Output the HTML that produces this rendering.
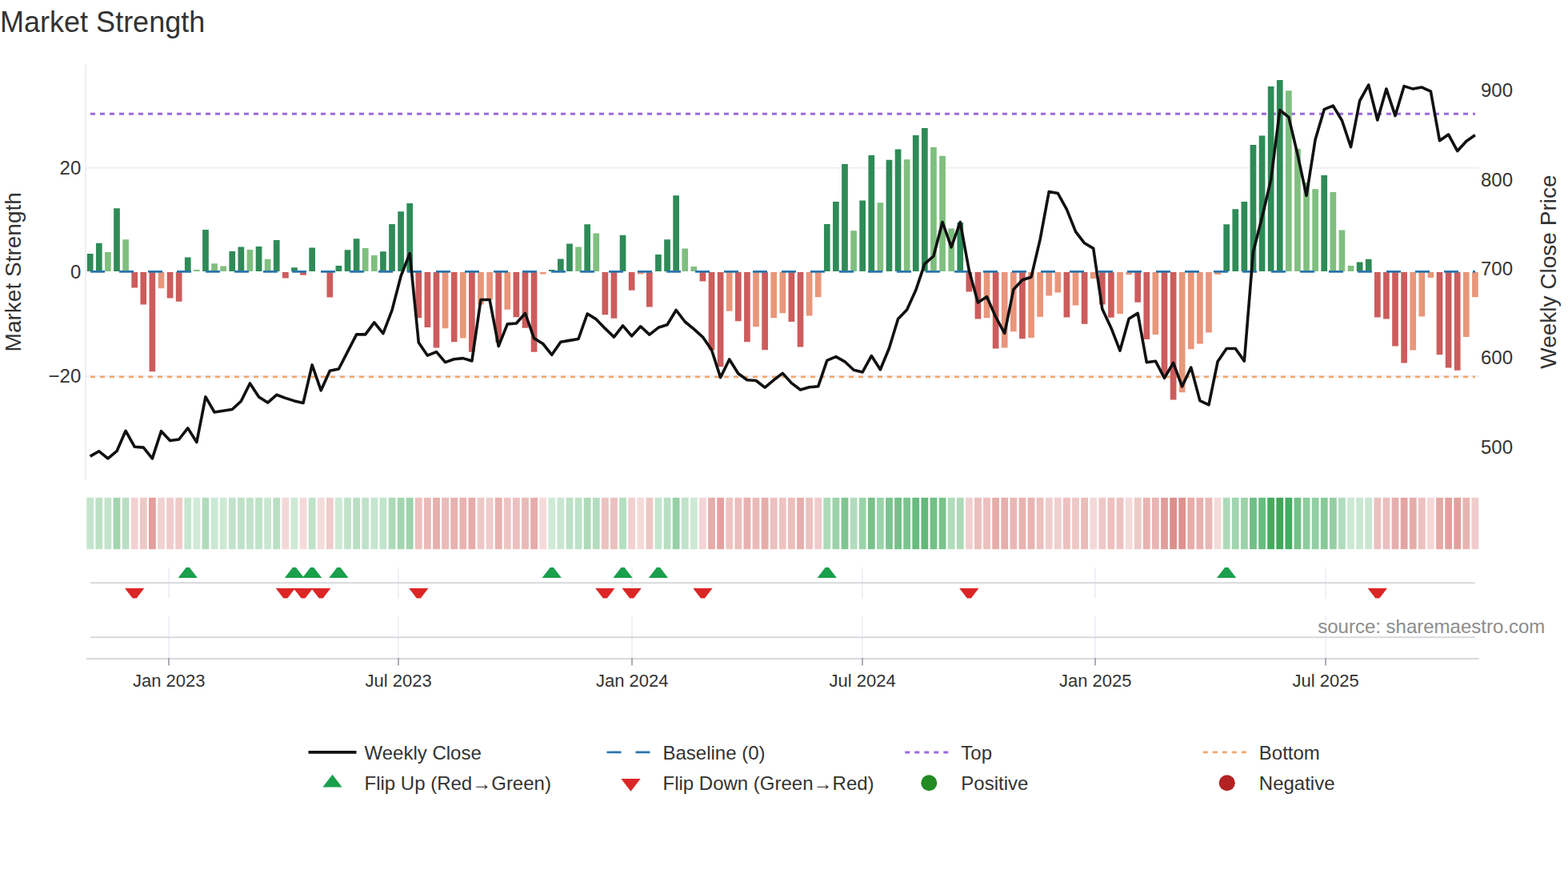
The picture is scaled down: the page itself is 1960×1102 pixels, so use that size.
<!DOCTYPE html>
<html lang="en"><head><meta charset="utf-8"><title>Market Strength</title>
<style>html,body{margin:0;padding:0;background:#fff}body{width:1960px;height:1102px;overflow:hidden;font-family:"Liberation Sans",sans-serif}svg{display:block}.t{font-family:"Liberation Sans","DejaVu Sans",sans-serif;fill:#333}.s{fill:#8c8c8c}</style></head><body>
<svg width="1960" height="1102" viewBox="0 0 1960 1102">
<rect width="1960" height="1102" fill="#fff"/>
<defs><clipPath id="c3"><rect x="100" y="709" width="1760" height="38.5"/></clipPath></defs>
<g stroke="#eeeff6" stroke-width="2" fill="none">
<path d="M108 209.7 H1849"/>
<path d="M108 470 H1849"/>
<path d="M107 80 V600"/>
</g>
<path d="M113 142.2 H1844" stroke="#9b6ade" stroke-width="3" stroke-dasharray="6 6" fill="none"/>
<path d="M113 470.8 H1844" stroke="#f1a870" stroke-width="2.7" stroke-dasharray="6 6" fill="none"/>
<path fill="#2e8b57" d="M108.85 317.1h7.7V338.9h-7.7zM119.95 303.8h7.7V338.9h-7.7zM142.14 260.2h7.7V338.9h-7.7zM230.92 321.4h7.7V338.9h-7.7zM253.12 286.9h7.7V338.9h-7.7zM286.41 314h7.7V338.9h-7.7zM297.51 308.4h7.7V338.9h-7.7zM319.7 307.9h7.7V338.9h-7.7zM341.9 300h7.7V338.9h-7.7zM364.09 334.2h7.7V338.9h-7.7zM386.29 309.5h7.7V338.9h-7.7zM419.58 332.1h7.7V338.9h-7.7zM430.68 312.2h7.7V338.9h-7.7zM441.77 298.2h7.7V338.9h-7.7zM475.07 314.2h7.7V338.9h-7.7zM486.16 280.1h7.7V338.9h-7.7zM497.26 264.2h7.7V338.9h-7.7zM508.36 254.1h7.7V338.9h-7.7zM685.92 337.1h7.7V338.9h-7.7zM697.02 323.4h7.7V338.9h-7.7zM708.12 304.5h7.7V338.9h-7.7zM730.31 280.2h7.7V338.9h-7.7zM774.7 293.8h7.7V338.9h-7.7zM819.09 318h7.7V338.9h-7.7zM830.19 299.2h7.7V338.9h-7.7zM841.29 244.2h7.7V338.9h-7.7zM1029.94 280.1h7.7V338.9h-7.7zM1041.04 252.1h7.7V338.9h-7.7zM1052.14 205.1h7.7V338.9h-7.7zM1074.33 250.6h7.7V338.9h-7.7zM1085.43 194.1h7.7V338.9h-7.7zM1107.62 199.7h7.7V338.9h-7.7zM1118.72 186.4h7.7V338.9h-7.7zM1140.92 169.1h7.7V338.9h-7.7zM1152.02 159.9h7.7V338.9h-7.7zM1196.41 278h7.7V338.9h-7.7zM1529.33 280.2h7.7V338.9h-7.7zM1540.43 261.3h7.7V338.9h-7.7zM1551.53 252.1h7.7V338.9h-7.7zM1562.62 181.1h7.7V338.9h-7.7zM1573.72 169.6h7.7V338.9h-7.7zM1584.82 107.9h7.7V338.9h-7.7zM1595.92 99.9h7.7V338.9h-7.7zM1651.4 218.9h7.7V338.9h-7.7zM1695.79 327.6h7.7V338.9h-7.7zM1706.89 323.8h7.7V338.9h-7.7z"/>
<path fill="#7fbf7f" d="M131.05 315.1h7.7V338.9h-7.7zM153.24 299.2h7.7V338.9h-7.7zM242.02 337h7.7V338.9h-7.7zM264.21 329.3h7.7V338.9h-7.7zM275.31 332.4h7.7V338.9h-7.7zM308.6 312h7.7V338.9h-7.7zM330.8 323.7h7.7V338.9h-7.7zM452.87 310.1h7.7V338.9h-7.7zM463.97 319.1h7.7V338.9h-7.7zM719.21 308.4h7.7V338.9h-7.7zM741.41 291.5h7.7V338.9h-7.7zM852.38 310.4h7.7V338.9h-7.7zM863.48 333h7.7V338.9h-7.7zM1063.24 288.2h7.7V338.9h-7.7zM1096.53 253.3h7.7V338.9h-7.7zM1129.82 199.3h7.7V338.9h-7.7zM1163.11 184h7.7V338.9h-7.7zM1174.21 194.8h7.7V338.9h-7.7zM1185.31 285.6h7.7V338.9h-7.7zM1607.01 113.3h7.7V338.9h-7.7zM1618.11 186h7.7V338.9h-7.7zM1629.21 228h7.7V338.9h-7.7zM1640.31 236.2h7.7V338.9h-7.7zM1662.5 240h7.7V338.9h-7.7zM1673.6 287.4h7.7V338.9h-7.7zM1684.7 332h7.7V338.9h-7.7z"/>
<path fill="#cd5c5c" d="M164.34 340h7.7V359.4h-7.7zM175.44 340h7.7V380.5h-7.7zM186.53 340h7.7V464.2h-7.7zM208.73 340h7.7V372.6h-7.7zM219.83 340h7.7V376.7h-7.7zM353 340h7.7V347.6h-7.7zM375.19 340h7.7V343.7h-7.7zM408.48 340h7.7V371.6h-7.7zM519.46 340h7.7V397.2h-7.7zM530.55 340h7.7V409h-7.7zM541.65 340h7.7V434.5h-7.7zM563.85 340h7.7V427.3h-7.7zM586.04 340h7.7V439.7h-7.7zM619.34 340h7.7V428h-7.7zM641.53 340h7.7V396.3h-7.7zM652.63 340h7.7V409.7h-7.7zM663.73 340h7.7V439.8h-7.7zM752.5 340h7.7V393.3h-7.7zM763.6 340h7.7V397.7h-7.7zM785.8 340h7.7V362.7h-7.7zM807.99 340h7.7V383.5h-7.7zM874.58 340h7.7V351.6h-7.7zM885.68 340h7.7V437.2h-7.7zM896.77 340h7.7V458.3h-7.7zM918.97 340h7.7V401.2h-7.7zM930.07 340h7.7V427.2h-7.7zM952.26 340h7.7V437.3h-7.7zM985.55 340h7.7V402h-7.7zM996.65 340h7.7V433.5h-7.7zM1207.5 340h7.7V364.5h-7.7zM1218.6 340h7.7V398.6h-7.7zM1240.8 340h7.7V435.5h-7.7zM1274.09 340h7.7V423.2h-7.7zM1329.58 340h7.7V396.4h-7.7zM1351.77 340h7.7V404.8h-7.7zM1373.97 340h7.7V380.4h-7.7zM1385.06 340h7.7V396.7h-7.7zM1418.36 340h7.7V377.7h-7.7zM1429.45 340h7.7V424h-7.7zM1451.65 340h7.7V468h-7.7zM1462.75 340h7.7V499.5h-7.7zM1717.99 340h7.7V396.5h-7.7zM1729.09 340h7.7V398.4h-7.7zM1740.18 340h7.7V432.5h-7.7zM1751.28 340h7.7V453.5h-7.7zM1795.67 340h7.7V443.3h-7.7zM1806.77 340h7.7V459.6h-7.7zM1817.87 340h7.7V462.8h-7.7z"/>
<path fill="#e9967a" d="M197.63 340h7.7V360.3h-7.7zM552.75 340h7.7V410.2h-7.7zM574.95 340h7.7V422.5h-7.7zM597.14 340h7.7V380.5h-7.7zM608.24 340h7.7V374.5h-7.7zM630.43 340h7.7V386.8h-7.7zM674.82 340h7.7V342.5h-7.7zM796.89 340h7.7V342.5h-7.7zM907.87 340h7.7V388.7h-7.7zM941.16 340h7.7V408.3h-7.7zM963.36 340h7.7V397.2h-7.7zM974.46 340h7.7V391.3h-7.7zM1007.75 340h7.7V394.5h-7.7zM1018.85 340h7.7V371.3h-7.7zM1229.7 340h7.7V397.3h-7.7zM1251.89 340h7.7V434.5h-7.7zM1262.99 340h7.7V414.3h-7.7zM1285.19 340h7.7V422h-7.7zM1296.28 340h7.7V396h-7.7zM1307.38 340h7.7V369.4h-7.7zM1318.48 340h7.7V365.4h-7.7zM1340.67 340h7.7V381.4h-7.7zM1362.87 340h7.7V347.9h-7.7zM1396.16 340h7.7V392.1h-7.7zM1407.26 340h7.7V343.3h-7.7zM1440.55 340h7.7V418h-7.7zM1473.84 340h7.7V490.3h-7.7zM1484.94 340h7.7V436.3h-7.7zM1496.04 340h7.7V429.4h-7.7zM1507.14 340h7.7V415.5h-7.7zM1518.23 340h7.7V342.9h-7.7zM1762.38 340h7.7V437.6h-7.7zM1773.48 340h7.7V395.5h-7.7zM1784.57 340h7.7V347h-7.7zM1828.96 340h7.7V421h-7.7zM1840.06 340h7.7V371.3h-7.7z"/>
<path d="M113 339.4 H1844" stroke="#2a74ac" stroke-width="2.6" stroke-dasharray="18 18" fill="none"/>
<polyline points="112.7,570.1 123.8,563.8 134.9,572.9 145.99,563.7 157.09,538.3 168.19,558.2 179.29,559.1 190.38,572.9 201.48,538.7 212.58,550.5 223.68,549 234.77,534.9 245.87,552.5 256.97,495.9 268.06,515 279.16,513.2 290.26,511.5 301.36,501.2 312.45,479 323.55,495.9 334.65,503.1 345.75,493.3 356.85,497.4 367.94,500.9 379.04,503.5 390.14,455.9 401.24,487.8 412.33,463.3 423.43,461 434.53,439.4 445.62,417.9 456.72,417.9 467.82,402.9 478.92,416.6 490.01,387.6 501.11,345 512.21,316.5 523.31,428.1 534.4,444.2 545.5,439.6 556.6,452.6 567.7,448.8 578.8,447.6 589.89,451 600.99,374.5 612.09,374.5 623.19,432.6 634.28,404.9 645.38,404 656.48,391.5 667.58,422.6 678.67,429.5 689.77,443.3 700.87,427.2 711.97,425.4 723.06,423.4 734.16,392 745.26,398.9 756.36,410.4 767.45,421.1 778.55,406.9 789.65,419.9 800.75,407.8 811.84,418.1 822.94,409.3 834.04,405.8 845.14,387.5 856.23,402 867.33,411.2 878.43,421.1 889.53,437.2 900.62,471.6 911.72,449 922.82,466.7 933.92,474.7 945.01,475.5 956.11,484.2 967.21,474.8 978.31,466.4 989.4,478.6 1000.5,487 1011.6,483.7 1022.7,482.8 1033.79,450.3 1044.89,445.7 1055.99,451.8 1067.09,462.2 1078.18,464.9 1089.28,444.6 1100.38,461.8 1111.47,435 1122.57,398.4 1133.67,387 1144.77,362.6 1155.87,329.6 1166.96,320 1178.06,277.5 1189.16,308.8 1200.26,277.5 1211.35,338 1222.45,378 1233.55,370.7 1244.64,396 1255.74,416.3 1266.84,361.8 1277.94,349.8 1289.04,346.2 1300.13,299.1 1311.23,239.5 1322.33,241.5 1333.42,261.7 1344.52,289.3 1355.62,303.8 1366.72,310.4 1377.82,386 1388.91,409.7 1400.01,438.1 1411.11,398.3 1422.21,391.4 1433.3,452.8 1444.4,451.2 1455.5,472.3 1466.6,453.4 1477.69,482.8 1488.79,459.1 1499.89,500.6 1510.99,505.8 1522.08,451.8 1533.18,435.5 1544.28,435.5 1555.38,451.1 1566.47,314.9 1577.57,271.5 1588.67,224.7 1599.77,137.5 1610.86,146.3 1621.96,192.9 1633.06,244.3 1644.15,174.2 1655.25,136.7 1666.35,132.1 1677.45,150.5 1688.55,183.7 1699.64,126 1710.74,106.1 1721.84,150 1732.94,111.1 1744.03,144.6 1755.13,107.6 1766.23,111.1 1777.33,109.1 1788.42,114.2 1799.52,175.7 1810.62,168.1 1821.72,188.7 1832.81,176.5 1843.91,168.8" fill="none" stroke="#111" stroke-width="3.6" stroke-linejoin="round"/>
<rect x="108.3" y="621.8" width="8.8" height="64.4" fill="#c4e4cc"/>
<rect x="119.4" y="621.8" width="8.8" height="64.4" fill="#bce1c5"/>
<rect x="130.5" y="621.8" width="8.8" height="64.4" fill="#c2e4cb"/>
<rect x="141.59" y="621.8" width="8.8" height="64.4" fill="#a1d5ae"/>
<rect x="152.69" y="621.8" width="8.8" height="64.4" fill="#b9dfc3"/>
<rect x="163.79" y="621.8" width="8.8" height="64.4" fill="#f1d2d1"/>
<rect x="174.89" y="621.8" width="8.8" height="64.4" fill="#eec8c7"/>
<rect x="185.98" y="621.8" width="8.8" height="64.4" fill="#e29f9d"/>
<rect x="197.08" y="621.8" width="8.8" height="64.4" fill="#f1d2d1"/>
<rect x="208.18" y="621.8" width="8.8" height="64.4" fill="#efcccb"/>
<rect x="219.28" y="621.8" width="8.8" height="64.4" fill="#efcac8"/>
<rect x="230.37" y="621.8" width="8.8" height="64.4" fill="#c6e6cf"/>
<rect x="241.47" y="621.8" width="8.8" height="64.4" fill="#d0ead7"/>
<rect x="252.57" y="621.8" width="8.8" height="64.4" fill="#b1dcbc"/>
<rect x="263.67" y="621.8" width="8.8" height="64.4" fill="#cbe8d3"/>
<rect x="274.76" y="621.8" width="8.8" height="64.4" fill="#cde9d4"/>
<rect x="285.86" y="621.8" width="8.8" height="64.4" fill="#c2e3cb"/>
<rect x="296.96" y="621.8" width="8.8" height="64.4" fill="#bee2c8"/>
<rect x="308.06" y="621.8" width="8.8" height="64.4" fill="#c1e3ca"/>
<rect x="319.15" y="621.8" width="8.8" height="64.4" fill="#bee2c7"/>
<rect x="330.25" y="621.8" width="8.8" height="64.4" fill="#c8e6d0"/>
<rect x="341.35" y="621.8" width="8.8" height="64.4" fill="#b9e0c3"/>
<rect x="352.45" y="621.8" width="8.8" height="64.4" fill="#f3d8d7"/>
<rect x="363.54" y="621.8" width="8.8" height="64.4" fill="#cee9d5"/>
<rect x="374.64" y="621.8" width="8.8" height="64.4" fill="#f4dad9"/>
<rect x="385.74" y="621.8" width="8.8" height="64.4" fill="#bfe2c8"/>
<rect x="396.84" y="621.8" width="8.8" height="64.4" fill="#f4dcdb"/>
<rect x="407.93" y="621.8" width="8.8" height="64.4" fill="#efcccb"/>
<rect x="419.03" y="621.8" width="8.8" height="64.4" fill="#cde8d4"/>
<rect x="430.13" y="621.8" width="8.8" height="64.4" fill="#c1e3ca"/>
<rect x="441.23" y="621.8" width="8.8" height="64.4" fill="#b8dfc2"/>
<rect x="452.32" y="621.8" width="8.8" height="64.4" fill="#bfe2c9"/>
<rect x="463.42" y="621.8" width="8.8" height="64.4" fill="#c5e5cd"/>
<rect x="474.52" y="621.8" width="8.8" height="64.4" fill="#c2e4cb"/>
<rect x="485.62" y="621.8" width="8.8" height="64.4" fill="#addab9"/>
<rect x="496.71" y="621.8" width="8.8" height="64.4" fill="#a3d6b0"/>
<rect x="507.81" y="621.8" width="8.8" height="64.4" fill="#9dd3ab"/>
<rect x="518.91" y="621.8" width="8.8" height="64.4" fill="#ecc0be"/>
<rect x="530" y="621.8" width="8.8" height="64.4" fill="#eabab8"/>
<rect x="541.1" y="621.8" width="8.8" height="64.4" fill="#e6aeac"/>
<rect x="552.2" y="621.8" width="8.8" height="64.4" fill="#eabab8"/>
<rect x="563.3" y="621.8" width="8.8" height="64.4" fill="#e7b1af"/>
<rect x="574.4" y="621.8" width="8.8" height="64.4" fill="#e8b4b2"/>
<rect x="585.49" y="621.8" width="8.8" height="64.4" fill="#e5aba9"/>
<rect x="596.59" y="621.8" width="8.8" height="64.4" fill="#eec8c7"/>
<rect x="607.69" y="621.8" width="8.8" height="64.4" fill="#efcbca"/>
<rect x="618.79" y="621.8" width="8.8" height="64.4" fill="#e7b1af"/>
<rect x="629.88" y="621.8" width="8.8" height="64.4" fill="#edc5c3"/>
<rect x="640.98" y="621.8" width="8.8" height="64.4" fill="#ecc0bf"/>
<rect x="652.08" y="621.8" width="8.8" height="64.4" fill="#eabab8"/>
<rect x="663.18" y="621.8" width="8.8" height="64.4" fill="#e5aba9"/>
<rect x="674.27" y="621.8" width="8.8" height="64.4" fill="#f4dbda"/>
<rect x="685.37" y="621.8" width="8.8" height="64.4" fill="#d0ead7"/>
<rect x="696.47" y="621.8" width="8.8" height="64.4" fill="#c8e6d0"/>
<rect x="707.57" y="621.8" width="8.8" height="64.4" fill="#bce1c6"/>
<rect x="718.66" y="621.8" width="8.8" height="64.4" fill="#bee2c8"/>
<rect x="729.76" y="621.8" width="8.8" height="64.4" fill="#addab9"/>
<rect x="740.86" y="621.8" width="8.8" height="64.4" fill="#b4ddbf"/>
<rect x="751.96" y="621.8" width="8.8" height="64.4" fill="#ecc2c0"/>
<rect x="763.05" y="621.8" width="8.8" height="64.4" fill="#ebc0be"/>
<rect x="774.15" y="621.8" width="8.8" height="64.4" fill="#b5dec0"/>
<rect x="785.25" y="621.8" width="8.8" height="64.4" fill="#f1d1cf"/>
<rect x="796.35" y="621.8" width="8.8" height="64.4" fill="#f4dbda"/>
<rect x="807.44" y="621.8" width="8.8" height="64.4" fill="#eec7c5"/>
<rect x="818.54" y="621.8" width="8.8" height="64.4" fill="#c4e5cd"/>
<rect x="829.64" y="621.8" width="8.8" height="64.4" fill="#b9dfc3"/>
<rect x="840.74" y="621.8" width="8.8" height="64.4" fill="#97d0a6"/>
<rect x="851.83" y="621.8" width="8.8" height="64.4" fill="#c0e2c9"/>
<rect x="862.93" y="621.8" width="8.8" height="64.4" fill="#cde9d5"/>
<rect x="874.03" y="621.8" width="8.8" height="64.4" fill="#f2d6d5"/>
<rect x="885.13" y="621.8" width="8.8" height="64.4" fill="#e6acaa"/>
<rect x="896.22" y="621.8" width="8.8" height="64.4" fill="#e2a2a0"/>
<rect x="907.32" y="621.8" width="8.8" height="64.4" fill="#edc4c2"/>
<rect x="918.42" y="621.8" width="8.8" height="64.4" fill="#ebbebc"/>
<rect x="929.52" y="621.8" width="8.8" height="64.4" fill="#e7b1af"/>
<rect x="940.61" y="621.8" width="8.8" height="64.4" fill="#eabab9"/>
<rect x="951.71" y="621.8" width="8.8" height="64.4" fill="#e6acaa"/>
<rect x="962.81" y="621.8" width="8.8" height="64.4" fill="#ecc0be"/>
<rect x="973.91" y="621.8" width="8.8" height="64.4" fill="#ecc3c1"/>
<rect x="985" y="621.8" width="8.8" height="64.4" fill="#ebbebc"/>
<rect x="996.1" y="621.8" width="8.8" height="64.4" fill="#e6aeac"/>
<rect x="1007.2" y="621.8" width="8.8" height="64.4" fill="#ecc1c0"/>
<rect x="1018.3" y="621.8" width="8.8" height="64.4" fill="#efcccb"/>
<rect x="1029.39" y="621.8" width="8.8" height="64.4" fill="#addab9"/>
<rect x="1040.49" y="621.8" width="8.8" height="64.4" fill="#9cd2aa"/>
<rect x="1051.59" y="621.8" width="8.8" height="64.4" fill="#7fc591"/>
<rect x="1062.68" y="621.8" width="8.8" height="64.4" fill="#b2dcbd"/>
<rect x="1073.78" y="621.8" width="8.8" height="64.4" fill="#9bd2a9"/>
<rect x="1084.88" y="621.8" width="8.8" height="64.4" fill="#78c28c"/>
<rect x="1095.98" y="621.8" width="8.8" height="64.4" fill="#9cd3ab"/>
<rect x="1107.07" y="621.8" width="8.8" height="64.4" fill="#7bc48f"/>
<rect x="1118.17" y="621.8" width="8.8" height="64.4" fill="#73c088"/>
<rect x="1129.27" y="621.8" width="8.8" height="64.4" fill="#7bc48e"/>
<rect x="1140.37" y="621.8" width="8.8" height="64.4" fill="#69bb7e"/>
<rect x="1151.46" y="621.8" width="8.8" height="64.4" fill="#63b97a"/>
<rect x="1162.56" y="621.8" width="8.8" height="64.4" fill="#72c086"/>
<rect x="1173.66" y="621.8" width="8.8" height="64.4" fill="#78c38c"/>
<rect x="1184.76" y="621.8" width="8.8" height="64.4" fill="#b0dcbc"/>
<rect x="1195.86" y="621.8" width="8.8" height="64.4" fill="#acdab8"/>
<rect x="1206.95" y="621.8" width="8.8" height="64.4" fill="#f0d0cf"/>
<rect x="1218.05" y="621.8" width="8.8" height="64.4" fill="#ebbfbe"/>
<rect x="1229.15" y="621.8" width="8.8" height="64.4" fill="#ecc0be"/>
<rect x="1240.24" y="621.8" width="8.8" height="64.4" fill="#e6adab"/>
<rect x="1251.34" y="621.8" width="8.8" height="64.4" fill="#e6aeac"/>
<rect x="1262.44" y="621.8" width="8.8" height="64.4" fill="#e9b8b6"/>
<rect x="1273.54" y="621.8" width="8.8" height="64.4" fill="#e8b3b1"/>
<rect x="1284.63" y="621.8" width="8.8" height="64.4" fill="#e8b4b2"/>
<rect x="1295.73" y="621.8" width="8.8" height="64.4" fill="#ecc0bf"/>
<rect x="1306.83" y="621.8" width="8.8" height="64.4" fill="#f0cdcc"/>
<rect x="1317.93" y="621.8" width="8.8" height="64.4" fill="#f0cfce"/>
<rect x="1329.02" y="621.8" width="8.8" height="64.4" fill="#ecc0bf"/>
<rect x="1340.12" y="621.8" width="8.8" height="64.4" fill="#eec8c6"/>
<rect x="1351.22" y="621.8" width="8.8" height="64.4" fill="#eabcba"/>
<rect x="1362.32" y="621.8" width="8.8" height="64.4" fill="#f3d8d7"/>
<rect x="1373.41" y="621.8" width="8.8" height="64.4" fill="#eec8c7"/>
<rect x="1384.51" y="621.8" width="8.8" height="64.4" fill="#ecc0be"/>
<rect x="1395.61" y="621.8" width="8.8" height="64.4" fill="#ecc2c1"/>
<rect x="1406.71" y="621.8" width="8.8" height="64.4" fill="#f4dad9"/>
<rect x="1417.81" y="621.8" width="8.8" height="64.4" fill="#eec9c8"/>
<rect x="1428.9" y="621.8" width="8.8" height="64.4" fill="#e8b3b1"/>
<rect x="1440" y="621.8" width="8.8" height="64.4" fill="#e8b6b4"/>
<rect x="1451.1" y="621.8" width="8.8" height="64.4" fill="#e19d9b"/>
<rect x="1462.19" y="621.8" width="8.8" height="64.4" fill="#dc8e8b"/>
<rect x="1473.29" y="621.8" width="8.8" height="64.4" fill="#de9290"/>
<rect x="1484.39" y="621.8" width="8.8" height="64.4" fill="#e6adab"/>
<rect x="1495.49" y="621.8" width="8.8" height="64.4" fill="#e7b0ae"/>
<rect x="1506.59" y="621.8" width="8.8" height="64.4" fill="#e9b7b5"/>
<rect x="1517.68" y="621.8" width="8.8" height="64.4" fill="#f4dad9"/>
<rect x="1528.78" y="621.8" width="8.8" height="64.4" fill="#addab9"/>
<rect x="1539.88" y="621.8" width="8.8" height="64.4" fill="#a1d5af"/>
<rect x="1550.97" y="621.8" width="8.8" height="64.4" fill="#9cd2aa"/>
<rect x="1562.07" y="621.8" width="8.8" height="64.4" fill="#70bf85"/>
<rect x="1573.17" y="621.8" width="8.8" height="64.4" fill="#69bc7f"/>
<rect x="1584.27" y="621.8" width="8.8" height="64.4" fill="#43ab5e"/>
<rect x="1595.37" y="621.8" width="8.8" height="64.4" fill="#3ea85a"/>
<rect x="1606.46" y="621.8" width="8.8" height="64.4" fill="#46ac61"/>
<rect x="1617.56" y="621.8" width="8.8" height="64.4" fill="#73c087"/>
<rect x="1628.66" y="621.8" width="8.8" height="64.4" fill="#8dcc9d"/>
<rect x="1639.75" y="621.8" width="8.8" height="64.4" fill="#92cea2"/>
<rect x="1650.85" y="621.8" width="8.8" height="64.4" fill="#87c999"/>
<rect x="1661.95" y="621.8" width="8.8" height="64.4" fill="#94cfa4"/>
<rect x="1673.05" y="621.8" width="8.8" height="64.4" fill="#b1dcbd"/>
<rect x="1684.14" y="621.8" width="8.8" height="64.4" fill="#cde8d4"/>
<rect x="1695.24" y="621.8" width="8.8" height="64.4" fill="#cae7d2"/>
<rect x="1706.34" y="621.8" width="8.8" height="64.4" fill="#c8e6d0"/>
<rect x="1717.44" y="621.8" width="8.8" height="64.4" fill="#ecc0bf"/>
<rect x="1728.54" y="621.8" width="8.8" height="64.4" fill="#ebbfbe"/>
<rect x="1739.63" y="621.8" width="8.8" height="64.4" fill="#e6afad"/>
<rect x="1750.73" y="621.8" width="8.8" height="64.4" fill="#e3a4a2"/>
<rect x="1761.83" y="621.8" width="8.8" height="64.4" fill="#e6acaa"/>
<rect x="1772.92" y="621.8" width="8.8" height="64.4" fill="#ecc1bf"/>
<rect x="1784.02" y="621.8" width="8.8" height="64.4" fill="#f3d8d7"/>
<rect x="1795.12" y="621.8" width="8.8" height="64.4" fill="#e5a9a7"/>
<rect x="1806.22" y="621.8" width="8.8" height="64.4" fill="#e2a19f"/>
<rect x="1817.32" y="621.8" width="8.8" height="64.4" fill="#e2a09d"/>
<rect x="1828.41" y="621.8" width="8.8" height="64.4" fill="#e8b4b2"/>
<rect x="1839.51" y="621.8" width="8.8" height="64.4" fill="#efcccb"/>
<g stroke="#eeeff6" stroke-width="1.7" fill="none">
<path d="M211 709 V747.5 M211 770 V823"/>
<path d="M498 709 V747.5 M498 770 V823"/>
<path d="M790 709 V747.5 M790 770 V823"/>
<path d="M1078 709 V747.5 M1078 770 V823"/>
<path d="M1369 709 V747.5 M1369 770 V823"/>
<path d="M1657 709 V747.5 M1657 770 V823"/>
</g>
<g stroke="#d7d9dc" stroke-width="2" fill="none"><path d="M112.7 728.2 H1844"/><path d="M112.7 796.3 H1844"/></g>
<path d="M108 823 H1849" stroke="#d7d9dc" stroke-width="2" fill="none"/>
<g stroke="#979ca2" stroke-width="1.6" fill="none">
<path d="M211 822 V831.5"/>
<path d="M498 822 V831.5"/>
<path d="M790 822 V831.5"/>
<path d="M1078 822 V831.5"/>
<path d="M1369 822 V831.5"/>
<path d="M1657 822 V831.5"/>
</g>
<g clip-path="url(#c3)">
<path fill="#1a9f4c" d="M222.65 722H246.9L234.77 706.25ZM355.82 722H380.07L367.94 706.25ZM378.01 722H402.26L390.14 706.25ZM411.31 722H435.55L423.43 706.25ZM677.65 722H701.89L689.77 706.25ZM766.43 722H790.67L778.55 706.25ZM810.82 722H835.06L822.94 706.25ZM1021.67 722H1045.92L1033.79 706.25ZM1521.06 722H1545.3L1533.18 706.25Z"/>
<path fill="#dc2626" d="M156.06 735H180.31L168.19 750.75ZM344.72 735H368.97L356.85 750.75ZM366.92 735H391.16L379.04 750.75ZM389.11 735H413.36L401.24 750.75ZM511.18 735H535.43L523.31 750.75ZM744.23 735H768.48L756.36 750.75ZM777.52 735H801.77L789.65 750.75ZM866.3 735H890.55L878.43 750.75ZM1199.23 735H1223.48L1211.35 750.75ZM1709.71 735H1733.96L1721.84 750.75Z"/>
</g>
<path d="M385.5 939.9 h60" stroke="#111" stroke-width="3.6" fill="none"/>
<path d="M758.5 939.9 h60" stroke="#2a74ac" stroke-width="2.6" stroke-dasharray="18 18" fill="none"/>
<path d="M1131.3 939.9 h60" stroke="#9b6ade" stroke-width="3" stroke-dasharray="6 6" fill="none"/>
<path d="M1503.8 939.9 h60" stroke="#f1a870" stroke-width="2.7" stroke-dasharray="6 6" fill="none"/>
<path fill="#1a9f4c" d="M403.38 983.45H427.62L415.5 967.7Z"/>
<path fill="#dc2626" d="M776.38 972.95H800.62L788.5 988.7Z"/>
<circle cx="1161.3" cy="978.2" r="10" fill="#228b22"/>
<circle cx="1533.8" cy="978.2" r="10" fill="#b22222"/>
<text class="t" x="0.1" y="40.1" font-size="36" text-anchor="start">Market Strength</text>
<text class="t" x="101.3" y="218" font-size="24" text-anchor="end">20</text>
<text class="t" x="101.3" y="347.7" font-size="24" text-anchor="end">0</text>
<text class="t" x="101.3" y="478.3" font-size="24" text-anchor="end">−20</text>
<text class="t" x="1850.95" y="121.3" font-size="24" text-anchor="start">900</text>
<text class="t" x="1850.95" y="232.7" font-size="24" text-anchor="start">800</text>
<text class="t" x="1850.95" y="343.8" font-size="24" text-anchor="start">700</text>
<text class="t" x="1850.95" y="455.3" font-size="24" text-anchor="start">600</text>
<text class="t" x="1850.95" y="566.7" font-size="24" text-anchor="start">500</text>
<text class="t" x="25.9" y="339.8" font-size="28" text-anchor="middle" transform="rotate(-90 25.9 339.8)">Market Strength</text>
<text class="t" x="1944.8" y="339.6" font-size="28" text-anchor="middle" transform="rotate(-90 1944.8 339.6)">Weekly Close Price</text>
<text class="t" x="211.2" y="858.2" font-size="22" text-anchor="middle">Jan 2023</text>
<text class="t" x="498.2" y="858.2" font-size="22" text-anchor="middle">Jul 2023</text>
<text class="t" x="790.2" y="858.2" font-size="22" text-anchor="middle">Jan 2024</text>
<text class="t" x="1078.2" y="858.2" font-size="22" text-anchor="middle">Jul 2024</text>
<text class="t" x="1369.2" y="858.2" font-size="22" text-anchor="middle">Jan 2025</text>
<text class="t" x="1657.2" y="858.2" font-size="22" text-anchor="middle">Jul 2025</text>
<text class="t s" x="1931.3" y="791.4" font-size="24" text-anchor="end">source: sharemaestro.com</text>
<text class="t" x="455.5" y="948.6" font-size="24" text-anchor="start">Weekly Close</text>
<text class="t" x="828.5" y="948.6" font-size="24" text-anchor="start">Baseline (0)</text>
<text class="t" x="1201.3" y="948.6" font-size="24" text-anchor="start">Top</text>
<text class="t" x="1573.8" y="948.6" font-size="24" text-anchor="start">Bottom</text>
<text class="t" x="455.5" y="986.9" font-size="24" text-anchor="start">Flip Up (Red→Green)</text>
<text class="t" x="828.5" y="986.9" font-size="24" text-anchor="start">Flip Down (Green→Red)</text>
<text class="t" x="1201.3" y="986.9" font-size="24" text-anchor="start">Positive</text>
<text class="t" x="1573.8" y="986.9" font-size="24" text-anchor="start">Negative</text>
</svg></body></html>
